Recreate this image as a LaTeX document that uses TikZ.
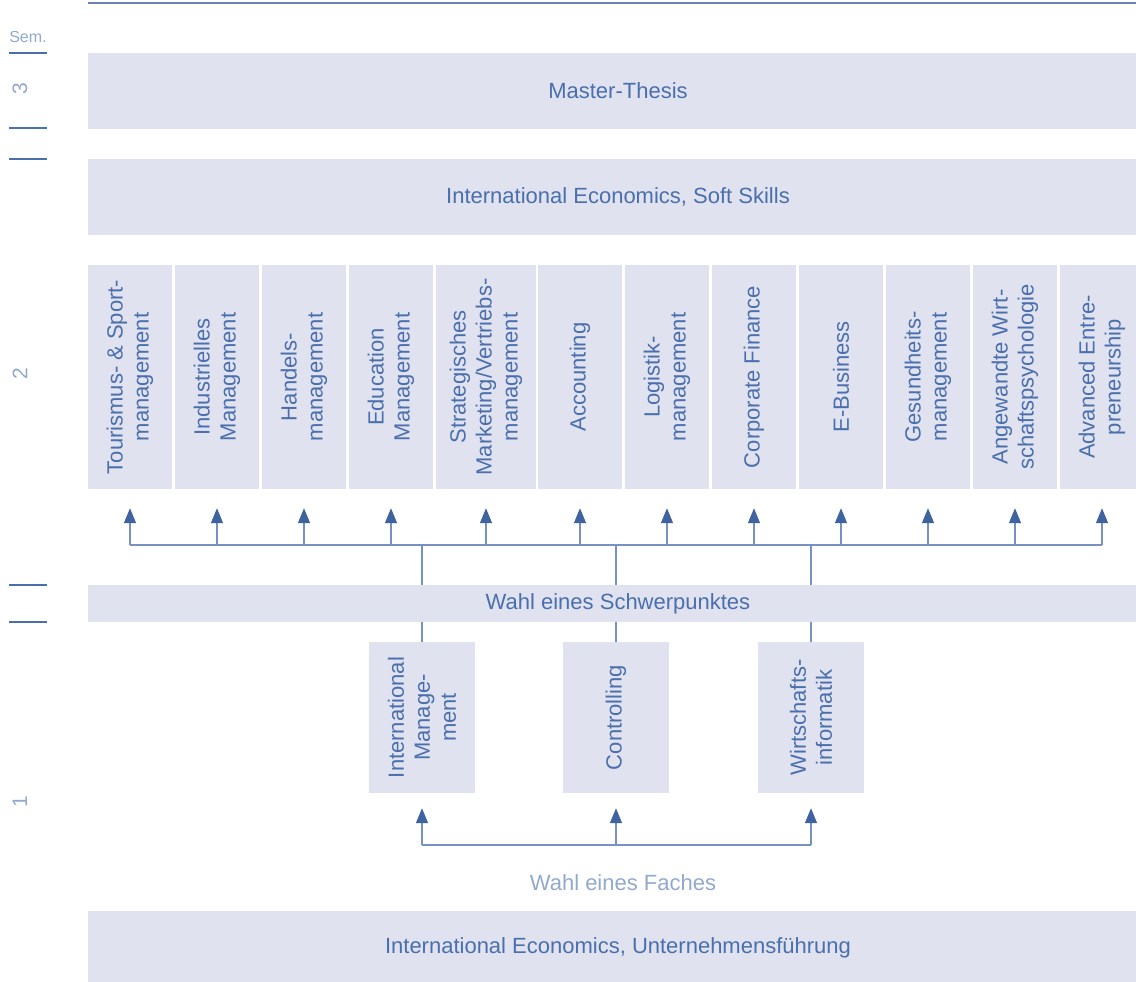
\documentclass[tikz,border=0pt]{standalone}
\usepackage{fontspec}
\setmainfont{Liberation Sans}
\usetikzlibrary{arrows.meta}
\definecolor{boxbg}{HTML}{E0E2EF}
\definecolor{txt}{HTML}{4A6FAD}
\definecolor{lnc}{HTML}{7792C2}
\definecolor{arc}{HTML}{3F62A0}
\colorlet{faint}{txt!60}

\begin{document}
\begin{tikzpicture}[
    x=1pt, y=-1pt,
    every node/.append style={text=txt, inner sep=0pt, font=\fontsize{22}{26}\selectfont},
    bar/.style={fill=boxbg, minimum width=1060pt, minimum height=#1},
    col/.style={fill=boxbg, rotate=90, align=center, minimum width=224pt},
    pick/.style={fill=boxbg, rotate=90, align=center, minimum width=151pt, minimum height=106pt},
    ln/.style={draw=lnc, line width=1.4pt},
    arr/.style={ln, -{Triangle[length=15pt,width=12pt,color=arc]}},
    tick/.style={draw=txt, line width=1.2pt},
    small/.style={text=faint, font=\fontsize{16}{18}\selectfont},
    semno/.style={text=faint, rotate=90, font=\fontsize{21}{24}\selectfont}
]
    \useasboundingbox (0,0) rectangle (1136,982);
    \draw [lnc!90!black, line width=1.5pt] (88,3) -- (1136,3);

    % semester column
    \node [small] (sem) at (28,37) {Sem.};
    \foreach \y in {53,128,159,585,622}
        \draw [tick] (9,\y) -- (47,\y);
    \node [semno] (s3) at (20,89) {3};
    \node [semno] (s2) at (20,374) {2};
    \node [semno] (s1) at (20,802) {1};

    % bars
    \node [bar=76pt] (thesis) at (618,91) {Master-Thesis};
    \node [bar=76pt] (soft) at (618,197) {International Economics, Soft Skills};
    \node [bar=37pt] (wahl) at (618,603.5) {Wahl eines Schwerpunktes};
    \node [bar=74pt] (base) at (618,948) {International Economics, Unternehmensführung};

    % Schwerpunkte
    \foreach \x/\w/\n/\t in {
        130/84/c1/{Tourismus- \& Sport-\\management},
        217/84/c2/{Industrielles\\Management},
        304/84/c3/{Handels-\\management},
        391/84/c4/{Education\\Management},
        486/100/c5/{Strategisches\\Marketing/Vertriebs-\\management},
        580/84/c6/{Accounting},
        667/84/c7/{Logistik-\\management},
        754/84/c8/{Corporate Finance},
        841/84/c9/{E-Business},
        928/84/c10/{Gesundheits-\\management},
        1015/84/c11/{Angewandte Wirt-\\schaftspsychologie},
        1102/84/c12/{Advanced Entre-\\preneurship}}
        \node [col, minimum height=\w pt] (\n) at (\x,377) {\t};

    % Faecher
    \node [pick] (im) at (422,717.5) {International\\Manage-\\ment};
    \node [pick] (co) at (616,717.5) {Controlling};
    \node [pick] (wi) at (811,717.5) {Wirtschafts-\\informatik};

    \coordinate (bus) at (0,545);
    \coordinate (fb) at (0,845);

    \draw [ln] (c1 |- bus) -- (c12 |- bus);
    \foreach \n in {c1,c2,c3,c4,c5,c6,c7,c8,c9,c10,c11,c12}
        \draw [arr, shorten >=19pt] (\n |- bus) -- (\n.west);
    \foreach \n in {im,co,wi} {
        \draw [ln] (\n.east) -- (\n |- wahl.south);
        \draw [ln] (\n |- wahl.north) -- (\n |- bus);
        \draw [arr, shorten >=15pt] (\n |- fb) -- (\n.west);
    }
    \draw [ln] (im |- fb) -- (wi |- fb);

    \node [text=faint] (fach) at (623,883) {Wahl eines Faches};
\end{tikzpicture}
\end{document}
